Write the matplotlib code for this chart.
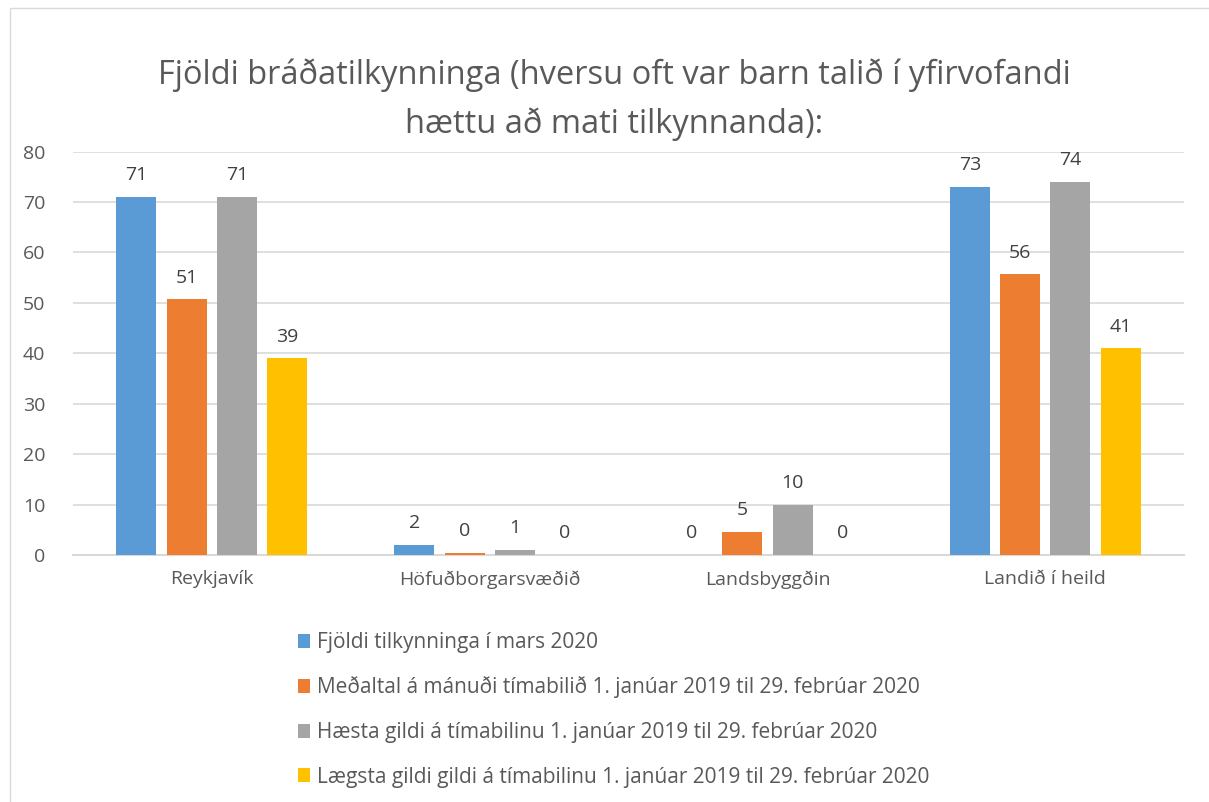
import numpy as np
import matplotlib.pyplot as plt
from matplotlib.patches import Rectangle, Patch

# data
categories = ["Reykjavík", "Höfuðborgarsvæðið", "Landsbyggðin", "Landið í heild"]
series_names = [
    "Fjöldi tilkynninga í mars 2020",
    "Meðaltal á mánuði tímabilið 1. janúar 2019 til 29. febrúar 2020",
    "Hæsta gildi á tímabilinu 1. janúar 2019 til 29. febrúar 2020",
    "Lægsta gildi gildi á tímabilinu 1. janúar 2019 til 29. febrúar 2020",
]
mars_2020 = [71, 2, 0, 73]
medaltal = [50.7, 0.4, 4.6, 55.7]
haesta = [71, 1, 10, 74]
laegsta = [39, 0, 0, 41]
title = "Fjöldi bráðatilkynninga (hversu oft var barn talið í yfirvofandi\nhættu að mati tilkynnanda):"

colors = ["#5b9bd5", "#ed7d31", "#a5a5a5", "#ffc000"]
text_color = "#595959"

plt.rcParams['font.family'] = ['Open Sans', 'DejaVu Sans']

fig = plt.figure(figsize=(12.09, 8.02), dpi=100)
ax = fig.add_axes([0.0604, 0.308, 0.919, 0.503])

x = np.arange(len(categories))
step = 0.181
width = 0.144
all_series = [mars_2020, medaltal, haesta, laegsta]
for i, (vals, col) in enumerate(zip(all_series, colors)):
    bars = ax.bar(x + (i - 1.5) * step, vals, width, color=col, zorder=3)
    ax.bar_label(bars, labels=[f"{v:.0f}" for v in vals], padding=9,
                 fontsize=14, color="#404040")

ax.set_xlim(-0.5, len(categories) - 0.5)
ax.set_ylim(0, 80)
ax.set_yticks(np.arange(0, 81, 10))
ax.set_xticks(x)
ax.set_xticklabels(categories)
ax.tick_params(axis="both", length=0, labelsize=14, labelcolor=text_color)
ax.tick_params(axis="x", pad=11)
ax.tick_params(axis="y", pad=20)
ax.grid(axis="y", color="#d9d9d9", linewidth=1.2, zorder=0)
for side in ["top", "right", "left"]:
    ax.spines[side].set_visible(False)
ax.spines["bottom"].set_color("#d9d9d9")
ax.spines["bottom"].set_linewidth(1.5)

fig.text(0.508, 0.927, title, ha="center", va="top", fontsize=23.5,
         color=text_color, linespacing=1.6)

handles = [Patch(facecolor=c) for c in colors]
fig.legend(handles, series_names, loc="upper left", bbox_to_anchor=(0.238, 0.225),
           frameon=False, fontsize=15, labelcolor=text_color,
           handlelength=0.55, handleheight=0.65, handletextpad=0.35,
           labelspacing=1.13, borderpad=0)

# thin frame around the whole chart
fig.patches.append(Rectangle((0.008, -0.01), 1.0, 1.0, transform=fig.transFigure,
                             fill=False, edgecolor="#d9d9d9", linewidth=1))

fig.savefig("out.png", dpi=100)
